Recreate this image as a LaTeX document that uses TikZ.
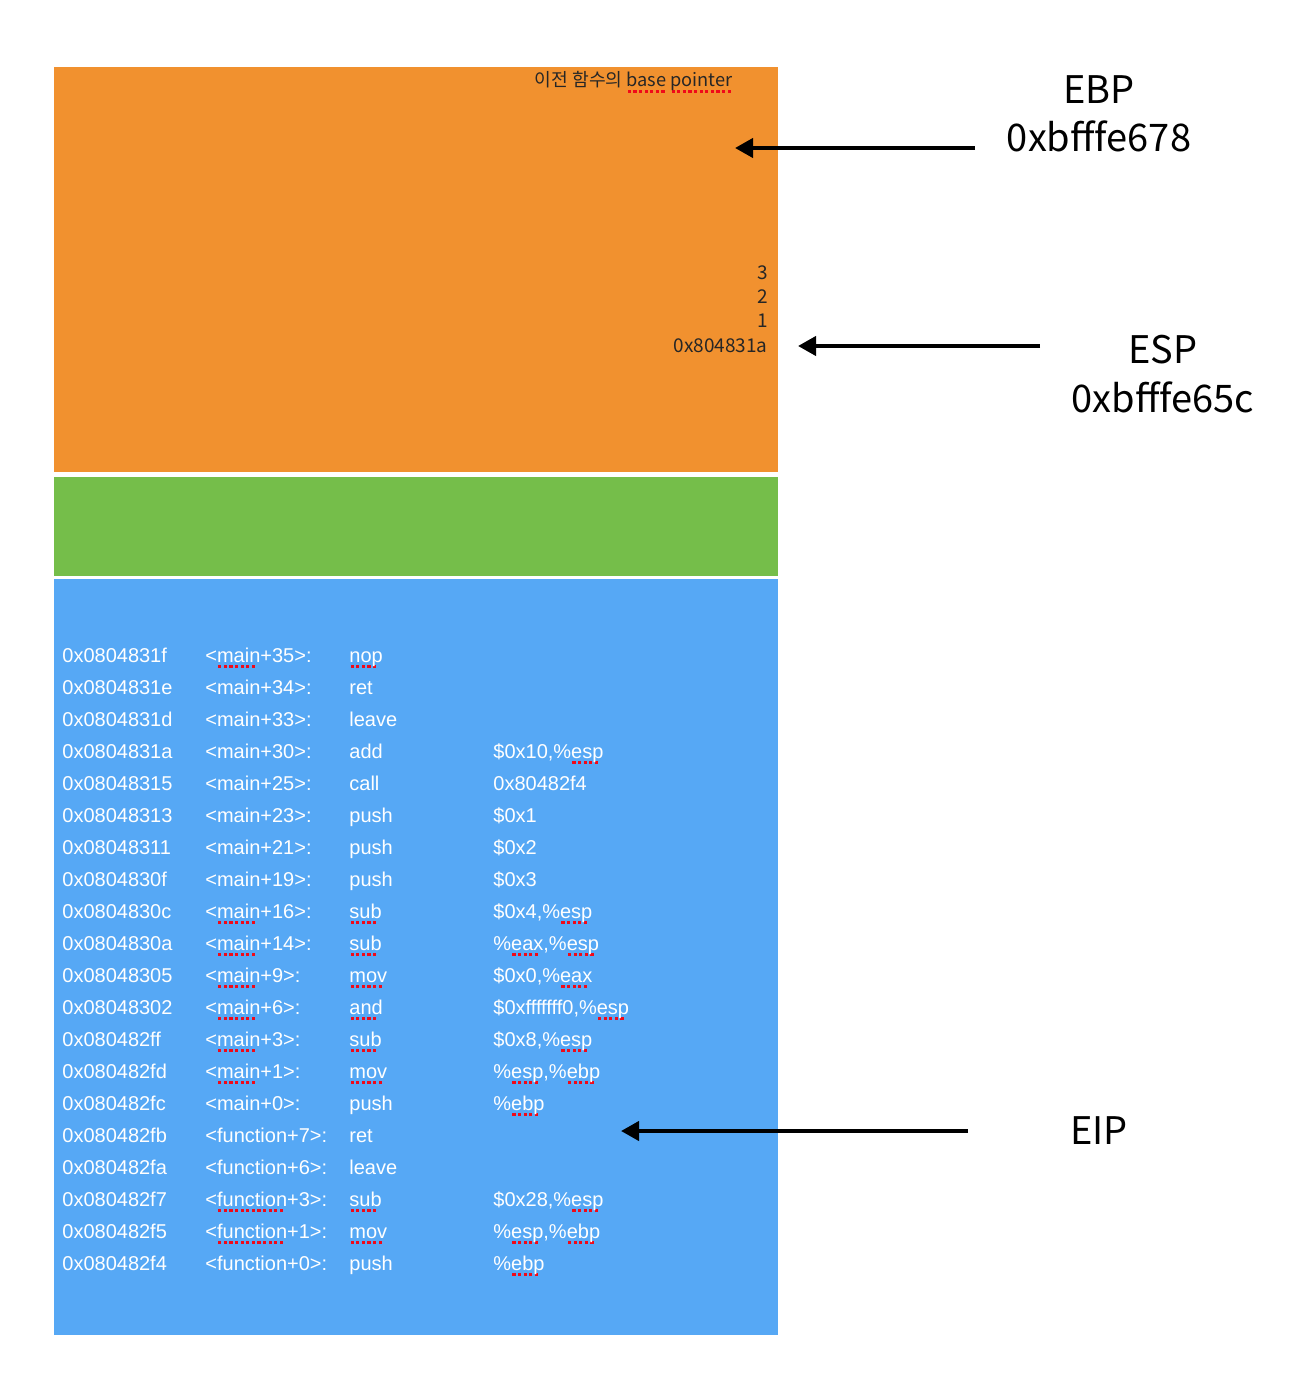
\documentclass[tikz,border=0pt]{standalone}
\usepackage{fontspec}
\setmainfont{Liberation Sans}
\newfontfamily\kr{Noto Sans CJK KR}
\usetikzlibrary{arrows.meta}
\definecolor{stkorange}{RGB}{241,145,47}
\definecolor{stkgreen}{RGB}{117,190,74}
\definecolor{stkblue}{RGB}{86,168,245}
\definecolor{splred}{RGB}{240,10,25}
\newlength\splw
\newcommand\spl[1]{\settowidth\splw{#1}\rlap{\textcolor{splred}{\raisebox{-3pt}{\leaders\hbox to 2.8pt{\hss\rule{1.6pt}{1.6pt}\hss}\hskip\splw}}}#1}
\newcommand\asmrow[5]{%
  \node[asm] (a#1) at (62,{662+32*#1}) {#2};
  \node[asm] (s#1) at (205,{662+32*#1}) {#3};
  \node[asm] (o#1) at (349,{662+32*#1}) {#4};
  \node[asm] (g#1) at (493,{662+32*#1}) {#5};}
\begin{document}
\begin{tikzpicture}[x=0.5pt,y=-0.5pt,
  asm/.style={anchor=base west,inner sep=0pt,text=white,font=\fontsize{10pt}{12pt}\selectfont},
  stk/.style={anchor=base east,inner sep=0pt,text=black!85,font=\kr\fontsize{9.5pt}{11pt}\selectfont},
  reg/.style={anchor=base,inner sep=0pt,text=black,font=\kr\fontsize{19pt}{23pt}\selectfont},
  ptr/.style={line width=2pt,-{Triangle[length=9pt,width=9.5pt]}}]
\useasboundingbox (0,0) rectangle (1292,1374);
\fill[white] (0,0) rectangle (1292,1374);
% stack regions
\fill[stkorange] (54,67) rectangle (778,472);
\fill[stkgreen] (54,477) rectangle (778,576);
\fill[stkblue] (54,579) rectangle (778,1335);
% orange contents
\node[stk,font=\kr\fontsize{9.1pt}{11pt}\selectfont] (bp) at (733,87) {이전 함수의 \spl{base} \spl{pointer}};
\node[stk] (v3) at (768,280) {3};
\node[stk] (v2) at (768,304) {2};
\node[stk] (v1) at (768,328) {1};
\node[stk] (ret) at (768,352) {0x804831a};
% code listing
\asmrow{0}{0x0804831f}{<\spl{main}+35>:}{\spl{nop}}{}
\asmrow{1}{0x0804831e}{<main+34>:}{ret}{}
\asmrow{2}{0x0804831d}{<main+33>:}{leave}{}
\asmrow{3}{0x0804831a}{<main+30>:}{add}{\$0x10,\%\spl{esp}}
\asmrow{4}{0x08048315}{<main+25>:}{call}{0x80482f4}
\asmrow{5}{0x08048313}{<main+23>:}{push}{\$0x1}
\asmrow{6}{0x08048311}{<main+21>:}{push}{\$0x2}
\asmrow{7}{0x0804830f}{<main+19>:}{push}{\$0x3}
\asmrow{8}{0x0804830c}{<\spl{main}+16>:}{\spl{sub}}{\$0x4,\%\spl{esp}}
\asmrow{9}{0x0804830a}{<\spl{main}+14>:}{\spl{sub}}{\%\spl{eax},\%\spl{esp}}
\asmrow{10}{0x08048305}{<\spl{main}+9>:}{\spl{mov}}{\$0x0,\%\spl{eax}}
\asmrow{11}{0x08048302}{<\spl{main}+6>:}{\spl{and}}{\$0xfffffff0,\%\spl{esp}}
\asmrow{12}{0x080482ff}{<\spl{main}+3>:}{\spl{sub}}{\$0x8,\%\spl{esp}}
\asmrow{13}{0x080482fd}{<\spl{main}+1>:}{\spl{mov}}{\%\spl{esp},\%\spl{ebp}}
\asmrow{14}{0x080482fc}{<main+0>:}{push}{\%\spl{ebp}}
\asmrow{15}{0x080482fb}{<function+7>:}{ret}{}
\asmrow{16}{0x080482fa}{<function+6>:}{leave}{}
\asmrow{17}{0x080482f7}{<\spl{function}+3>:}{\spl{sub}}{\$0x28,\%\spl{esp}}
\asmrow{18}{0x080482f5}{<\spl{function}+1>:}{\spl{mov}}{\%\spl{esp},\%\spl{ebp}}
\asmrow{19}{0x080482f4}{<function+0>:}{push}{\%\spl{ebp}}
% register labels
\node[reg] (ebp) at (1099,104) {EBP};
\node[reg] (ebpv) at (1099,152) {0xbfffe678};
\node[reg] (esp) at (1163,364) {ESP};
\node[reg] (espv) at (1163,412) {0xbfffe65c};
\node[reg] (eip) at (1099,1144) {EIP};
% pointers
\coordinate (ebpS) at (975,148);
\coordinate (ebpT) at (735,148);
\coordinate (espS) at (1040,346);
\coordinate (espT) at (798,346);
\coordinate (eipS) at (968,1131);
\coordinate (eipT) at (621,1131);
\draw[ptr] (ebpS) -- (ebpT);
\draw[ptr] (espS) -- (espT);
\draw[ptr] (eipS) -- (eipT);
\end{tikzpicture}
\end{document}
